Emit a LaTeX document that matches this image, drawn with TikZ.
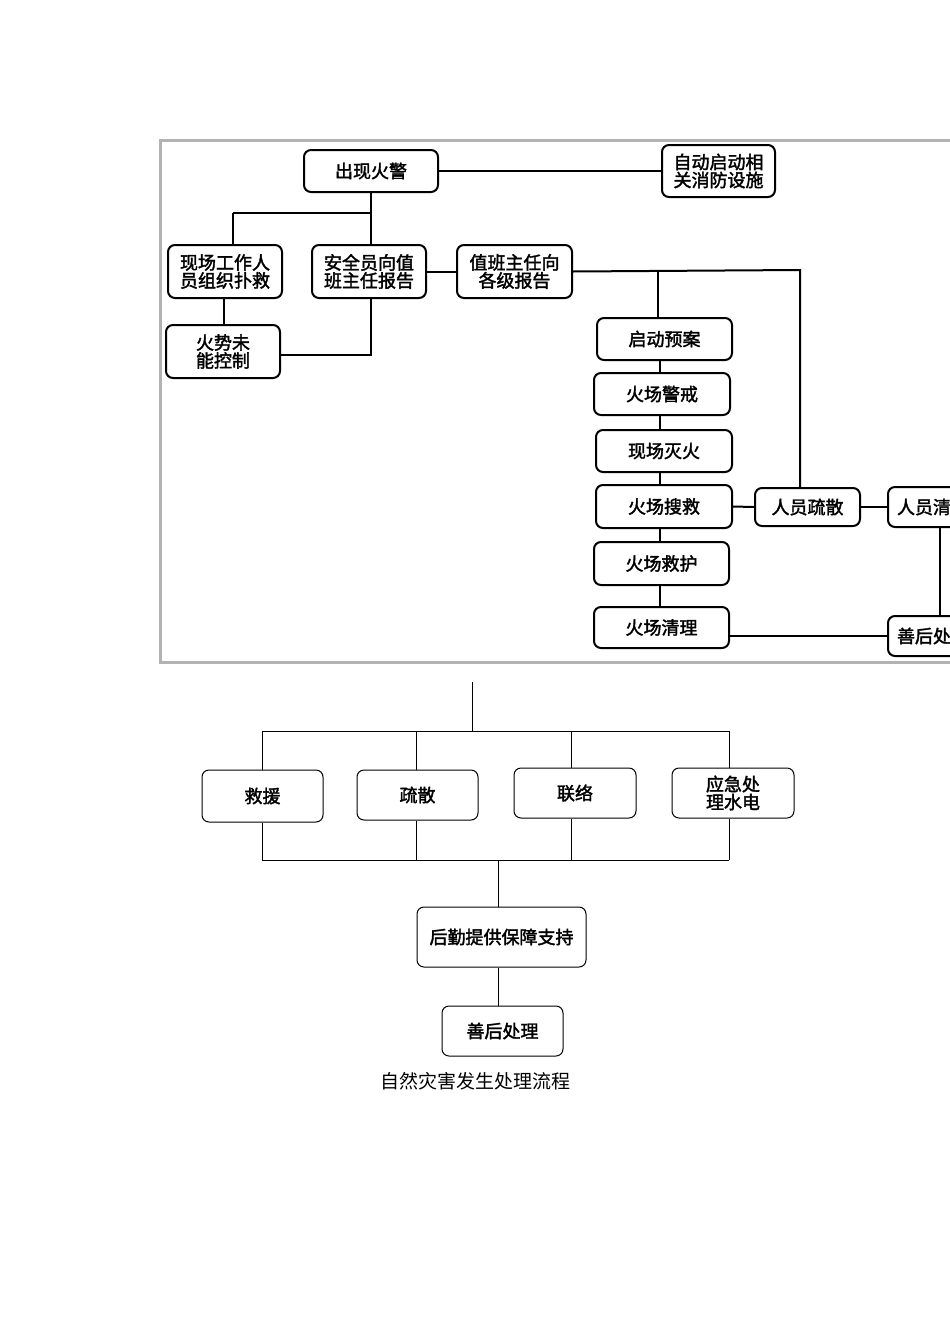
\documentclass[tikz,border=0pt]{standalone}
\usepackage{fontspec}
\newfontfamily\cjk{Noto Sans CJK SC}[AutoFakeBold=2]
\begin{document}
\begin{tikzpicture}[x=1pt,y=-1pt,
 tb/.style={draw,line width=2pt,rounded corners=7pt,align=center,font=\cjk\bfseries\fontsize{18}{18}\selectfont,inner sep=0pt},
 bb/.style={draw,line width=1pt,rounded corners=7pt,align=center,font=\cjk\bfseries\fontsize{18}{18}\selectfont,inner sep=0pt},
 ln/.style={line width=2pt},
 bl/.style={line width=1pt}]
\useasboundingbox (0,0) rectangle (950,1344);
\fill[white] (0,0) rectangle (950,1344);
\begin{scope}
\clip (158,138) rectangle (950,664);
\draw[line width=3pt,gray!60] (160,140) rectangle (960,662);
\newcommand{\bx}[7]{\node[#1,minimum width=#4-#2,minimum height=#5-#3] (#6) at ({(#2+#4)/2},{(#3+#5)/2}) {#7};}
\bx{tb}{304}{150}{438}{192}{a}{出现火警}
\bx{tb}{662}{145}{775}{197}{b}{自动启动相\\关消防设施}
\bx{tb}{168}{245}{282}{298}{c}{现场工作人\\员组织扑救}
\bx{tb}{312}{245}{426}{298}{d}{安全员向值\\班主任报告}
\bx{tb}{457}{245}{572}{298}{e}{值班主任向\\各级报告}
\bx{tb}{166}{325}{280}{378}{f}{火势未\\能控制}
\bx{tb}{597}{318}{732}{360}{g1}{启动预案}
\bx{tb}{594}{373}{730}{415}{g2}{火场警戒}
\bx{tb}{596}{430}{732}{472}{g3}{现场灭火}
\bx{tb}{596}{485}{732}{528}{g4}{火场搜救}
\bx{tb}{594}{542}{729}{585}{g5}{火场救护}
\bx{tb}{594}{607}{729}{648}{g6}{火场清理}
\bx{tb}{755}{488}{860}{526}{h}{人员疏散}
\node[tb,minimum height=40,anchor=west,inner xsep=9pt] (i) at (887,507) {人员清点\hspace*{20pt}};
\node[tb,minimum height=40,anchor=west,inner xsep=9pt] (j) at (887,636) {善后处理\hspace*{20pt}};
\draw[ln] (a.east) -- (b.west);
\draw[ln] (a.south-|371,0) -- (371,213) coordinate (t1);
\draw[ln] (233,213) -- (t1);
\draw[ln] (233,213) -- (c.north-|233,0);
\draw[ln] (t1) -- (d.north-|371,0);
\draw[ln] (c.south-|224,0) -- (f.north-|224,0);
\draw[ln] (d.south-|371,0) -- (371,355) -- (f.east|-0,355);
\draw[ln] (d.east) -- (e.west);
\draw[ln] (e.east) -- (800,270) -- (h.north-|800,0);
\draw[ln] (658,270) -- (g1.north-|658,0);
\foreach \p/\q in {g1/g2,g2/g3,g3/g4,g4/g5,g5/g6}{\draw[ln] (\p.south-|660,0) -- (\q.north-|660,0);}
\draw[ln] (g4.east) -- (h.west);
\draw[ln] (h.east) -- (i.west);
\draw[ln] (i.south-|940,0) -- (j.north-|940,0);
\draw[ln] (g6.east|-0,636) -- (j.west);
\end{scope}
\newcommand{\bx}[7]{\node[#1,minimum width=#4-#2,minimum height=#5-#3] (#6) at ({(#2+#4)/2},{(#3+#5)/2}) {#7};}
\bx{bb}{202}{770}{323}{822}{k1}{救援}
\bx{bb}{357}{770}{478}{820}{k2}{疏散}
\bx{bb}{514}{768}{636}{818}{k3}{联络}
\bx{bb}{672}{768}{794}{818}{k4}{应急处\\理水电}
\bx{bb}{417}{907}{586}{967}{m}{后勤提供保障支持}
\bx{bb}{442}{1006}{563}{1056}{n}{善后处理}
\coordinate (top) at (472,682);
\draw[bl] (top) -- (472,731);
\draw[bl] (262,731) -- (729,731);
\foreach \k/\x in {k1/262,k2/416,k3/571,k4/729}{\draw[bl] (\x,731) -- (\k.north-|\x,0); \draw[bl] (\k.south-|\x,0) -- (\x,860);}
\draw[bl] (262,860) -- (729,860);
\draw[bl] (498,860) -- (m.north-|498,0);
\draw[bl] (m.south-|498,0) -- (n.north-|498,0);
\node[font=\cjk\fontsize{19}{19}\selectfont] (cap) at (475,1081) {自然灾害发生处理流程};
\end{tikzpicture}
\end{document}
